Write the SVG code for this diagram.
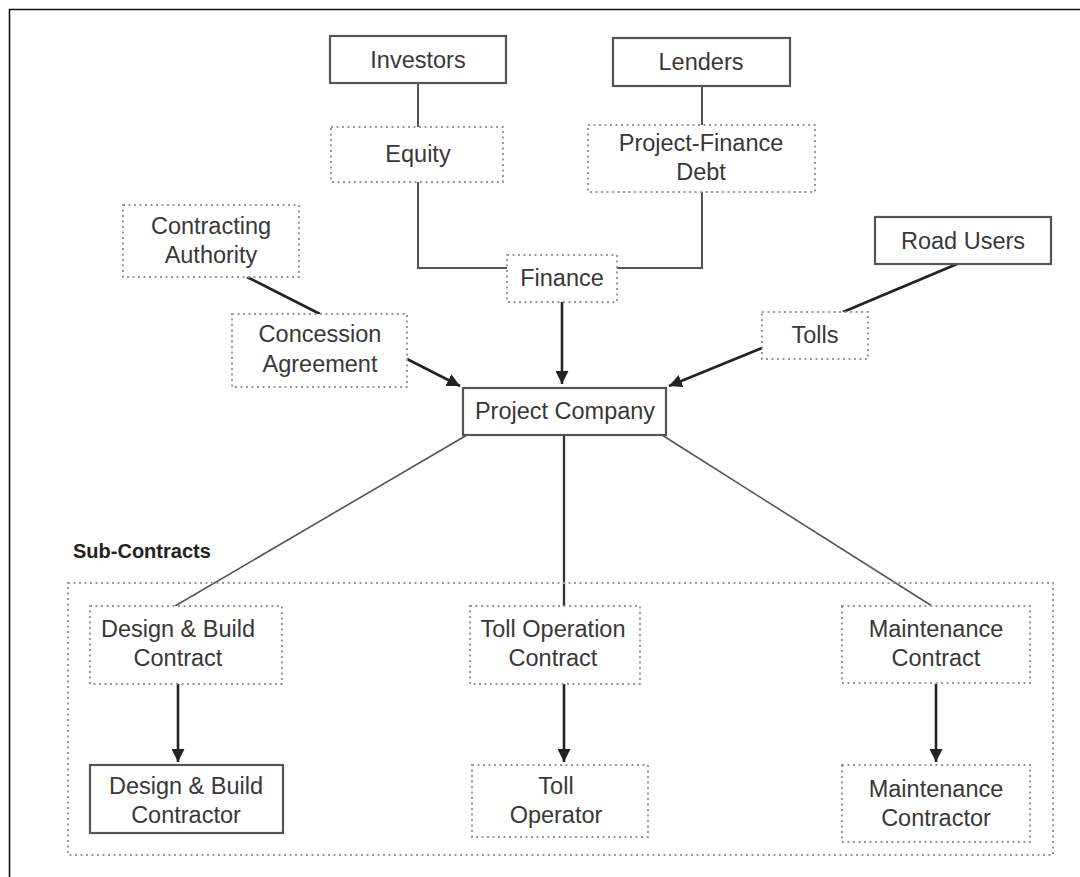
<svg xmlns="http://www.w3.org/2000/svg" width="1080" height="877" viewBox="0 0 1080 877">
<defs>
<style>
text{font-family:"Liberation Sans",Arial,sans-serif;font-size:23.5px;fill:#383838;text-anchor:middle}
.solid{fill:#fff;stroke:#555;stroke-width:2.2}
.dot{fill:#fff;stroke:#999;stroke-width:2;stroke-dasharray:2 3.5}
.ln{fill:none;stroke:#555;stroke-width:2}
.thin{fill:none;stroke:#555;stroke-width:1.6}
.dark{fill:none;stroke:#222;stroke-width:2.6}
.lbl{font-weight:bold;font-size:20px;text-anchor:start;fill:#222}
</style>
<marker id="ah" viewBox="0 0 10 10" refX="10" refY="5" markerWidth="5" markerHeight="5" orient="auto" markerUnits="strokeWidth">
<path d="M0,0 L10,5 L0,10 z" fill="#222"/>
</marker>
</defs>
<rect width="1080" height="877" fill="#fff"/>
<path d="M9.5,877 V9.5 H1080" fill="none" stroke="#111" stroke-width="1.6"/>

<g id="connectors">
<line class="ln" x1="418" y1="83" x2="418" y2="127"/>
<line class="ln" x1="702" y1="86" x2="702" y2="125"/>
<path class="ln" d="M418,182 V268 H507"/>
<path class="ln" d="M702,192 V268 H617"/>
<line class="dark" x1="562" y1="302" x2="562" y2="384" marker-end="url(#ah)"/>
<line class="dark" x1="247" y1="277" x2="320" y2="314"/>
<line class="dark" x1="407" y1="359" x2="460" y2="386" marker-end="url(#ah)"/>
<line class="dark" x1="957" y1="264" x2="843" y2="312"/>
<line class="dark" x1="762" y1="348" x2="669" y2="386" marker-end="url(#ah)"/>
<line class="thin" x1="467" y1="435" x2="175" y2="606"/>
<line class="dark" x1="564" y1="435" x2="564" y2="606" style="stroke:#333;stroke-width:2.3"/>
<line class="thin" x1="662" y1="435" x2="932" y2="606"/>
<line class="dark" x1="178" y1="684" x2="178" y2="762" marker-end="url(#ah)"/>
<line class="dark" x1="564" y1="684" x2="564" y2="762" marker-end="url(#ah)"/>
<line class="dark" x1="936" y1="684" x2="936" y2="762" marker-end="url(#ah)"/>
</g>

<g id="subcontracts">
<rect x="68" y="583" width="985" height="272" fill="none" stroke="#999" stroke-width="2" stroke-dasharray="2 3.5"/>
<text class="lbl" x="73" y="558">Sub-Contracts</text>
</g>

<g id="investors"><rect class="solid" x="330" y="36" width="176" height="47"/><text x="418" y="68">Investors</text></g>
<g id="lenders"><rect class="solid" x="613" y="38" width="177" height="48"/><text x="701" y="70">Lenders</text></g>
<g id="equity"><rect class="dot" x="331" y="127" width="172" height="55"/><text x="418" y="162">Equity</text></g>
<g id="pfdebt"><rect class="dot" x="588" y="125" width="227" height="67"/><text x="701" y="151">Project-Finance</text><text x="701" y="180">Debt</text></g>
<g id="finance"><rect class="dot" x="507" y="255" width="110" height="47"/><text x="562" y="286">Finance</text></g>
<g id="contracting"><rect class="dot" x="123" y="205" width="176" height="72"/><text x="211" y="234">Contracting</text><text x="211" y="263">Authority</text></g>
<g id="concession"><rect class="dot" x="232" y="314" width="175" height="73"/><text x="320" y="342">Concession</text><text x="320" y="372">Agreement</text></g>
<g id="roadusers"><rect class="solid" x="875" y="217" width="176" height="47"/><text x="963" y="249">Road Users</text></g>
<g id="tolls"><rect class="dot" x="762" y="312" width="106" height="47"/><text x="815" y="343">Tolls</text></g>
<g id="projectcompany"><rect class="solid" x="463" y="388" width="203" height="47"/><text x="565" y="419">Project Company</text></g>
<g id="dbcontract"><rect class="dot" x="90" y="606" width="192" height="78"/><text x="178" y="637">Design &amp; Build</text><text x="178" y="666">Contract</text></g>
<g id="tollopcontract"><rect class="dot" x="470" y="606" width="170" height="78"/><text x="553" y="637">Toll Operation</text><text x="553" y="666">Contract</text></g>
<g id="maintcontract"><rect class="dot" x="842" y="606" width="188" height="77"/><text x="936" y="637">Maintenance</text><text x="936" y="666">Contract</text></g>
<g id="dbcontractor"><rect class="solid" x="90" y="765" width="193" height="68"/><text x="186" y="794">Design &amp; Build</text><text x="186" y="823">Contractor</text></g>
<g id="tolloperator"><rect class="dot" x="472" y="765" width="176" height="72"/><text x="556" y="794">Toll</text><text x="556" y="823">Operator</text></g>
<g id="maintcontractor"><rect class="dot" x="842" y="765" width="188" height="77"/><text x="936" y="797">Maintenance</text><text x="936" y="826">Contractor</text></g>
</svg>
